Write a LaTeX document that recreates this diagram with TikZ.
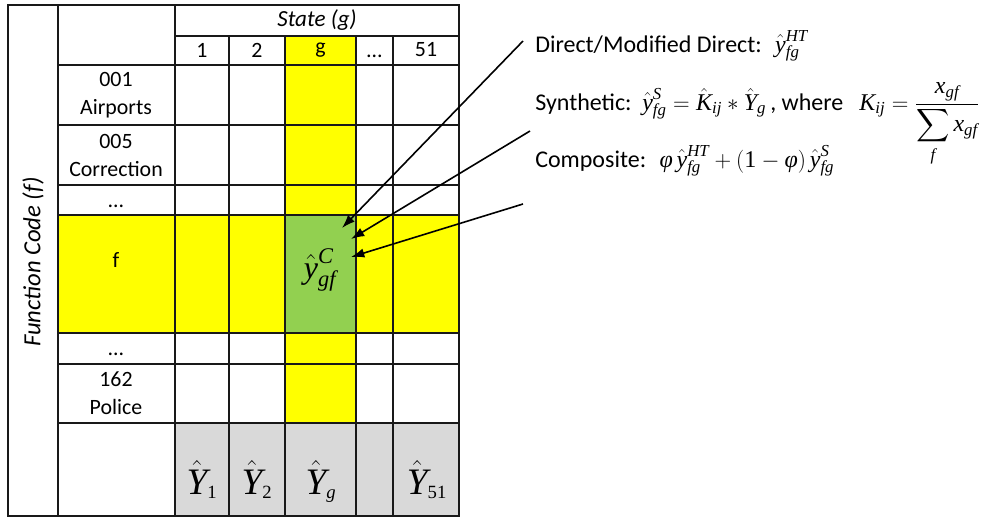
\documentclass[tikz,border=0pt]{standalone}
\usepackage{fontspec}
\usepackage{amsmath}
\setmainfont{Carlito}
\newfontfamily\tmfont{Liberation Serif}
\newcommand{\mi}[1]{\text{\tmfont\itshape #1}}
\newcommand{\mrm}[1]{\text{\tmfont #1}}
\usetikzlibrary{arrows.meta}
\definecolor{yel}{HTML}{FFFF00}
\definecolor{grn}{HTML}{92D050}
\definecolor{gry}{HTML}{D9D9D9}
\tikzset{
  grid/.style={line width=0.8pt, draw=black!90},
  txt/.style={inner sep=0pt, font=\fontsize{16.4}{21}\selectfont, align=center},
  bigmath/.style={inner sep=0pt, font=\fontsize{28}{30}\selectfont},
  cellmath/.style={inner sep=0pt, font=\fontsize{24}{26}\selectfont},
  eq/.style={inner sep=0pt, anchor=base west, font=\fontsize{18}{22}\selectfont},
  arr/.style={-{Latex[length=10pt,width=7pt]}, line width=1.2pt}
}
\begin{document}
\begin{tikzpicture}[x=0.75pt,y=-0.75pt]
\fill[white] (0,0) rectangle (992,518);
\useasboundingbox (0,0) rectangle (992,518);
% fills
\fill[yel] (285,36) rectangle (356,423);
\fill[yel] (58,215) rectangle (459,333);
\fill[grn] (285,215) rectangle (356,333);
\fill[gry] (175,423) rectangle (459,516);
% grid
\draw[grid] (8,5) rectangle (459,516);
\draw[grid] (58,5) -- (58,516);
\draw[grid] (175,5) -- (175,516);
\foreach \xx in {229,285,356,393} \draw[grid] (\xx,36) -- (\xx,516);
\draw[grid] (175,36) -- (459,36);
\foreach \yy in {65,125,185,215,333,364,423} \draw[grid] (58,\yy) -- (459,\yy);
% texts
\node[txt, rotate=90, font=\fontsize{18.5}{22}\selectfont] (fc) at (33,262) {\itshape Function Code (f)};
\node[txt, font=\fontsize{17.3}{21}\selectfont] (state) at (317,20) {\itshape State (g)};
\node[txt] (h1) at (202,50) {1};
\node[txt] (h2) at (257,50) {2};
\node[txt] (hg) at (320.5,50) {g};
\node[txt, anchor=base] (hd) at (374.5,57) {…};
\node[txt] (h51) at (426,50) {51};
\node[txt] (r1) at (116,95) {001\\Airports};
\node[txt] (r5) at (116,155) {005\\Correction};
\node[txt, anchor=base] (rd1) at (116,207) {…};
\node[txt, anchor=base] (rf) at (116,267) {f};
\node[txt, anchor=base] (rd2) at (116,355) {…};
\node[txt] (r162) at (116,393) {162\\Police};
% green cell
\node[cellmath] (ygf) at (320,270) {$\hat{\mi{y}}^{\mi{C}}_{\mi{gf}}$};
% bottom totals
\node[bigmath, anchor=base] (Y1) at (202,494) {$\hat{\mi{Y}}_{\scriptscriptstyle\mrm{1}}$};
\node[bigmath, anchor=base] (Y2) at (257,494) {$\hat{\mi{Y}}_{\scriptscriptstyle\mrm{2}}$};
\node[bigmath, anchor=base] (Yg) at (321,494) {$\hat{\mi{Y}}_{\scriptscriptstyle\mi{g}}$};
\node[bigmath, anchor=base] (Y51) at (427,494) {$\hat{\mi{Y}}_{\scriptscriptstyle\mrm{51}}$};
% equations
\node[eq] (direct) at (535,52) {Direct/Modified Direct:\hspace{10pt}$\hat{\mi{y}}^{\mi{HT}}_{\mi{fg}}$};
\node[eq] (synth) at (535,110) {Synthetic:\hspace{8pt}$\hat{\mi{y}}^{\mi{S}}_{\mi{fg}}=\hat{\mi{K}}_{\mi{ij}}*\hat{\mi{Y}}_{\mi{g}}$\,, where\hspace{12pt}$\mi{K}_{\mi{ij}}=\dfrac{\mi{x}_{\mi{gf}}}{\displaystyle\sum_{\mi{f}}\mi{x}_{\mi{gf}}}$};
\node[eq] (comp) at (535,167) {Composite:\hspace{10pt}$\mi{φ}\,\hat{\mi{y}}^{\mi{HT}}_{\mi{fg}}+(\mrm{1}-\mi{φ})\,\hat{\mi{y}}^{\mi{S}}_{\mi{fg}}$};
% arrows
\coordinate (s1) at (523,41);
\coordinate (s2) at (530,131);
\coordinate (s3) at (523,204);
\coordinate (t1) at (342,228);
\coordinate (t2) at (351,239);
\coordinate (t3) at (351,257);
\draw[arr] (s1) -- (t1);
\draw[arr] (s2) -- (t2);
\draw[arr] (s3) -- (t3);
\end{tikzpicture}
\end{document}
